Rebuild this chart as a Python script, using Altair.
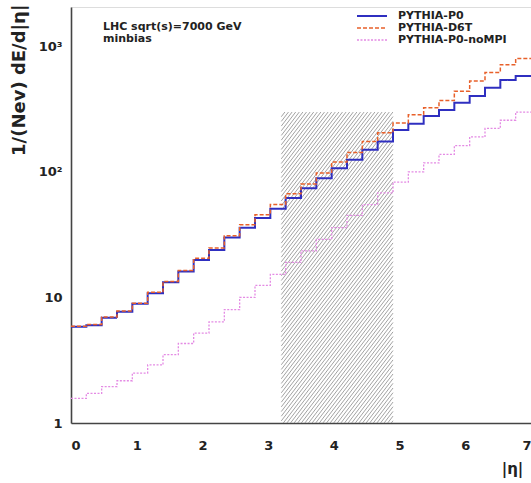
import altair as alt
import pandas as pd
import numpy as np

# ---- data ----
bin_width = 7 / 30
eta_edges = [round(k * bin_width, 4) for k in range(31)]

pythia_p0 = [5.85, 6.0, 6.9, 7.7, 8.9, 10.8, 13.2, 16.1, 19.9, 23.9,
             30, 36, 43, 51, 62, 74, 89, 107, 125, 150,
             175, 216, 242, 279, 312, 355, 403, 468, 541, 582]
pythia_d6t = [5.9, 6.1, 7.0, 7.8, 9.0, 11.0, 13.4, 16.4, 20.5, 24.8,
              31, 38, 45.5, 55, 67, 80, 98, 120, 143, 175,
              205, 245, 285, 325, 370, 440, 530, 620, 715, 800]
pythia_p0_nompi = [1.57, 1.72, 1.95, 2.17, 2.5, 2.9, 3.5, 4.3, 5.2, 6.4,
                   8.0, 10.0, 12.5, 15.3, 19, 23.5, 29, 36, 45, 55,
                   68, 83, 100, 118, 138, 162, 190, 222, 258, 300]

series_names = ["PYTHIA-P0", "PYTHIA-D6T", "PYTHIA-P0-noMPI"]
series_colors = ["#2f2fc0", "#e8602a", "#e48ae4"]

hatch_eta = [3.2, 4.9]
hatch_top = 300

x_domain = [0, 7]
y_domain = [1, 2060]
W, H = 460, 416
FONT = "DejaVu Sans"


def step_df(vals, name):
    return pd.DataFrame({"eta": eta_edges, "val": list(vals) + [vals[-1]], "series": name})


xs = alt.Scale(domain=x_domain, nice=False, zero=False)
ys = alt.Scale(type="log", domain=y_domain, nice=False)

# ---- hatch lines of the shaded band (computed from the band bounds) ----
hw = (hatch_eta[1] - hatch_eta[0]) / (x_domain[1] - x_domain[0]) * W
hh = np.log10(hatch_top) / np.log10(y_domain[1]) * H
slope = 1.3
rows = []
step = 3.6
c = -hh / slope
while c < hw:
    ua, ub = max(c, 0.0), min(c + hh / slope, hw)
    if ub > ua:
        va, vb = slope * (ua - c), slope * (ub - c)
        rows.append({
            "eta": hatch_eta[0] + ua / hw * (hatch_eta[1] - hatch_eta[0]),
            "eta2": hatch_eta[0] + ub / hw * (hatch_eta[1] - hatch_eta[0]),
            "val": 10 ** (va / hh * np.log10(hatch_top)),
            "val2": 10 ** (vb / hh * np.log10(hatch_top)),
        })
    c += step
hatch_df = pd.DataFrame(rows)

x_axis = alt.Axis(
    values=[0, 1, 2, 3, 4, 5, 6, 7], format="d", grid=False, ticks=False,
    domainColor="#444", domainWidth=1.6, labelFont=FONT, labelFontWeight="bold",
    labelFontSize=13, labelColor="#222", labelPadding=16,
    title="|η|", titleFont=FONT, titleFontWeight="bold", titleFontSize=15,
    titleColor="#222", titleX=441, titleY=38, titleAnchor="start", titleAlign="center",
)
y_axis = alt.Axis(
    values=[1, 10, 100, 1000], grid=False, ticks=False,
    labelExpr="datum.value == 1 ? '1' : datum.value == 10 ? '10' : datum.value == 100 ? '10²' : '10³'",
    domainColor="#444", domainWidth=1.6, labelFont=FONT, labelFontWeight="bold",
    labelFontSize=13, labelColor="#222", labelPadding=9,
    title="1/(Nev) dE/d|η|", titleFont=FONT, titleFontWeight="bold", titleFontSize=18,
    titleColor="#222", titleAngle=-90, titleX=-52, titleY=-3, titleAlign="right",
    titleBaseline="middle",
)

hatch = alt.Chart(hatch_df).mark_rule(color="#8a8a8a", strokeWidth=0.8, clip=True).encode(
    x=alt.X("eta:Q", scale=xs, axis=x_axis),
    x2="eta2:Q",
    y=alt.Y("val:Q", scale=ys, axis=y_axis),
    y2="val2:Q",
)

dashes = [[1, 0], [4, 2], [2, 1.5]]
widths = [2.0, 1.5, 1.3]
lines = []
for i, (vals, name) in enumerate(zip([pythia_p0, pythia_d6t, pythia_p0_nompi], series_names)):
    lines.append(
        alt.Chart(step_df(vals, name)).mark_line(
            interpolate="step-after", color=series_colors[i], strokeWidth=widths[i],
            strokeDash=dashes[i], clip=True,
        ).encode(
            x=alt.X("eta:Q", scale=xs, axis=x_axis),
            y=alt.Y("val:Q", scale=ys, axis=y_axis),
        )
    )

# ---- legend and annotation ----
legend_layers = []
row_y = [9, 21, 33]
for i, name in enumerate(series_names):
    legend_layers.append(
        alt.Chart(pd.DataFrame({"s": [name]})).mark_rule(
            color=series_colors[i], strokeWidth=widths[i], strokeDash=dashes[i]
        ).encode(x=alt.value(286), x2=alt.value(316), y=alt.value(row_y[i]))
    )
    legend_layers.append(
        alt.Chart(pd.DataFrame({"s": [name]})).mark_text(
            align="left", baseline="middle", font=FONT, fontWeight="bold", fontSize=11,
            color="#222",
        ).encode(x=alt.value(327), y=alt.value(row_y[i]), text="s:N")
    )

ann_lines = ["LHC sqrt(s)=7000 GeV", "minbias"]
ann_y = [20, 32]
for t, yy in zip(ann_lines, ann_y):
    legend_layers.append(
        alt.Chart(pd.DataFrame({"t": [t]})).mark_text(
            align="left", baseline="middle", font=FONT, fontWeight="bold", fontSize=11,
            color="#222",
        ).encode(x=alt.value(32), y=alt.value(yy), text="t:N")
    )

chart = alt.layer(hatch, *lines, *legend_layers).properties(
    width=W, height=H, autosize="none",
    padding={"left": 71, "top": 7, "right": 0, "bottom": 60},
).configure_view(stroke="#444", strokeWidth=1.6).configure(background="white")

chart.save("out.html", embed_options={"renderer": "svg", "actions": False})
